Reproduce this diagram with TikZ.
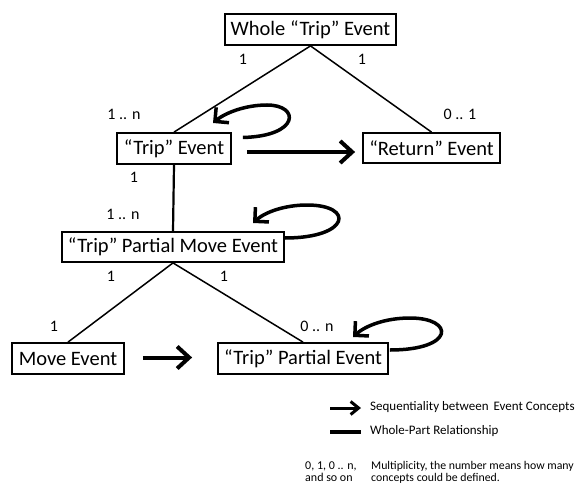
\documentclass[tikz,border=0pt]{standalone}
\usepackage{fontspec}
\setmainfont{Carlito}
\usetikzlibrary{arrows.meta,calc}
\begin{document}
\begin{tikzpicture}[x=1pt,y=-1pt,
  box/.style={draw, line width=1.8pt, inner sep=0pt, font=\fontsize{20.5}{21}\selectfont},
  lbl/.style={font=\fontsize{16}{17}\selectfont, inner sep=0pt, anchor=mid},
  part/.style={line width=1.5pt},
  seqarrow/.style={line width=4pt, -{Straight Barb[length=12pt,width=22pt]}},
  selfloop/.style={line width=3.5pt, -{Straight Barb[length=10pt,width=20pt]}},
  leg/.style={font=\fontsize{13}{14}\selectfont, inner sep=0pt, anchor=mid west},
  legsmall/.style={font=\fontsize{12}{13}\selectfont, inner sep=0pt, anchor=mid west}]
\useasboundingbox (0,0) rectangle (580,484);
% boxes
\node[box, minimum width=171pt, minimum height=31pt] (W) at (310.5,29.5) {Whole “Trip” Event};
\node[box, minimum width=114pt, minimum height=31pt] (T) at (174,148.5) {“Trip” Event};
\node[box, minimum width=137pt, minimum height=30pt] (R) at (431.5,148) {“Return” Event};
\node[box, minimum width=222pt, minimum height=30pt] (PM) at (173,247) {“Trip” Partial Move Event};
\node[box, minimum width=112pt, minimum height=31pt] (M) at (68,358.5) {Move Event};
\node[box, minimum width=170pt, minimum height=31pt] (PE) at (303,358.5) {“Trip” Partial Event};
% whole-part connectors
\draw[part] (W.south) -- (T.north);
\draw[part] (W.south) -- (R.north);
\draw[part, line width=2.2pt] (T.south) -- (PM.north);
\draw[part] (PM.south) -- (M.north);
\draw[part] (PM.south) -- (PE.north);
% multiplicities
\node[lbl] (m1) at (243,62) {1};
\node[lbl] (m2) at (362,62) {1};
\node[lbl] (m3) at (124,117) {1 .. n};
\node[lbl] (m4) at (460,117) {0 .. 1};
\node[lbl] (m5) at (134,180) {1};
\node[lbl] (m6) at (123,217) {1 .. n};
\node[lbl] (m7) at (111,279) {1};
\node[lbl] (m8) at (224,279) {1};
\node[lbl] (m9) at (54,329) {1};
\node[lbl] (m10) at (317,329) {0 .. n};
% sequentiality arrows
\draw[seqarrow] ($(T.east)+(15,3.5)$) -- ($(R.west)+(-7,4)$);
\draw[seqarrow] ($(M.east)+(18,-1)$) -- ($(PE.west)+(-25,-1)$);
% self loops
\draw[selfloop] ($(T.east)+(11,-11)$) .. controls (300,136) and (300,105) .. (267,105) .. controls (245,105) and (225,113) .. (213,123);
\draw[selfloop] ($(PM.east)+(0,-9)$) .. controls (350,238) and (355,205) .. (307,205) .. controls (285,205) and (265,212) .. (253,223);
\draw[selfloop] ($(PE.east)+(1,-8.5)$) .. controls (455,350) and (455,318) .. (410,318) .. controls (385,318) and (365,326) .. (353,337);
% legend
\coordinate (la1) at (330,408);
\coordinate (la2) at (361,408);
\draw[line width=3pt, -{Straight Barb[length=8pt,width=13pt]}] (la1) -- (la2);
\node[leg] (lt1) at (370,408) {Sequentiality between\hspace{5pt}Event Concepts};
\coordinate (lb1) at (330,432);
\coordinate (lb2) at (361,432);
\draw[line width=4pt] (lb1) -- (lb2);
\node[leg] (lt2) at (370,432) {Whole-Part Relationship};
\node[legsmall] (lt3) at (305,467) {0, 1, 0 .. n,};
\node[legsmall] (lt4) at (305,479) {and so on};
\node[legsmall, font=\fontsize{11.8}{13}\selectfont] (lt5) at (371,467) {Multiplicity, the number means how many};
\node[legsmall, font=\fontsize{11.8}{13}\selectfont] (lt6) at (371,479) {concepts could be defined.};
\end{tikzpicture}
\end{document}
